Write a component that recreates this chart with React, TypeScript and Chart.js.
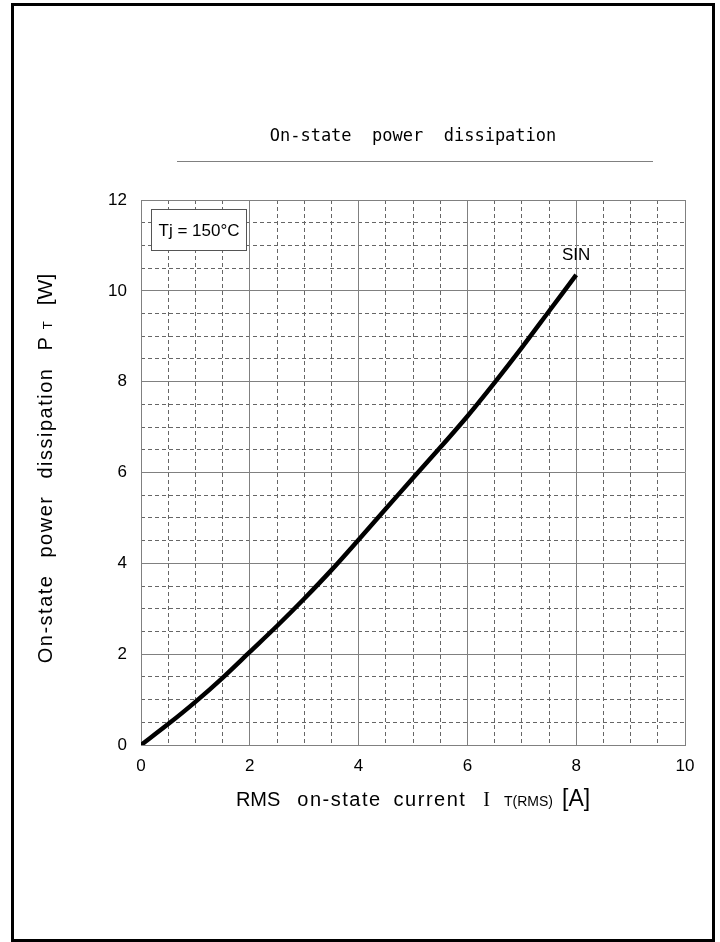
import { useEffect, useRef } from "react";
import { Chart, registerables } from "chart.js";

Chart.register(...registerables);

// ---- data ----
const currentA = [0, 0.5, 1, 1.5, 2, 2.5, 3, 3.5, 4, 4.5, 5, 5.5, 6, 6.5, 7, 7.5, 8];
const powerW = [0, 0.46, 0.95, 1.48, 2.05, 2.62, 3.22, 3.85, 4.52, 5.2, 5.88, 6.55, 7.24, 7.98, 8.75, 9.55, 10.35];
const xMajorStep = 2;
const yMajorStep = 2;
const minorStep = 0.5;
const xRange = [0, 10];
const yRange = [0, 12];
const chartTitle = "On-state  power  dissipation";
const seriesLabel = "SIN";
const conditionLabel = "Tj = 150°C";
const xTitleParts = ["RMS", "on-state", "current", "I", "T(RMS)", "[A]"];
const yTitleParts = ["On-state", "power", "dissipation", "P", "T", "[W]"];

const SANS = '"Liberation Sans", Arial, sans-serif';

type Seg = { text: string; font: string; ls: number; gapBefore: number; dy?: number };

function drawSegments(ctx: CanvasRenderingContext2D, segs: Seg[], cx: number, baseline: number) {
  // measure
  const widths = segs.map((s) => {
    ctx.font = s.font;
    (ctx as any).letterSpacing = s.ls + "px";
    return ctx.measureText(s.text).width;
  });
  let total = 0;
  segs.forEach((s, i) => (total += s.gapBefore + widths[i]));
  let x = cx - total / 2;
  ctx.textAlign = "left";
  ctx.textBaseline = "alphabetic";
  segs.forEach((s, i) => {
    x += s.gapBefore;
    ctx.font = s.font;
    (ctx as any).letterSpacing = s.ls + "px";
    ctx.fillText(s.text, x, baseline + (s.dy || 0));
    x += widths[i];
  });
  (ctx as any).letterSpacing = "0px";
}

const decorPlugin = {
  id: "decor",
  afterDraw(chart: any) {
    const ctx: CanvasRenderingContext2D = chart.ctx;
    const ca = chart.chartArea;
    const cx = (ca.left + ca.right) / 2;
    const cy = (ca.top + ca.bottom) / 2;
    ctx.save();
    ctx.fillStyle = "#000";

    // outer frame
    ctx.strokeStyle = "#000";
    ctx.lineWidth = 3;
    ctx.strokeRect(12.5, 4.5, 701, 936);

    // title
    ctx.font = '17px "DejaVu Sans Mono", monospace';
    ctx.textAlign = "center";
    ctx.textBaseline = "alphabetic";
    ctx.fillText(chartTitle, cx, 141);
    ctx.strokeStyle = "#808080";
    ctx.lineWidth = 1;
    ctx.beginPath();
    ctx.moveTo(177, 161.5);
    ctx.lineTo(653, 161.5);
    ctx.stroke();

    // x title
    const xs: Seg[] = [
      { text: xTitleParts[0], font: `20px ${SANS}`, ls: 0, gapBefore: 0 },
      { text: xTitleParts[1], font: `20px ${SANS}`, ls: 1.5, gapBefore: 17 },
      { text: xTitleParts[2], font: `20px ${SANS}`, ls: 1.5, gapBefore: 12 },
      { text: xTitleParts[3], font: '20px "Liberation Serif", serif', ls: 0, gapBefore: 17 },
      { text: xTitleParts[4], font: `14px ${SANS}`, ls: 0, gapBefore: 14 },
      { text: xTitleParts[5], font: `23px ${SANS}`, ls: 0, gapBefore: 9 },
    ];
    drawSegments(ctx, xs, cx, 806);

    // y title (rotated)
    ctx.save();
    ctx.translate(52, cy - 4);
    ctx.rotate(-Math.PI / 2);
    const ys: Seg[] = [
      { text: yTitleParts[0], font: `20px ${SANS}`, ls: 1.5, gapBefore: 0 },
      { text: yTitleParts[1], font: `20px ${SANS}`, ls: 1.5, gapBefore: 17 },
      { text: yTitleParts[2], font: `20px ${SANS}`, ls: 1.5, gapBefore: 17 },
      { text: yTitleParts[3], font: `20px ${SANS}`, ls: 0, gapBefore: 17 },
      { text: yTitleParts[4], font: `13px ${SANS}`, ls: 0, gapBefore: 8 },
      { text: yTitleParts[5], font: `21px ${SANS}`, ls: 0, gapBefore: 16 },
    ];
    drawSegments(ctx, ys, 0, 0);
    ctx.restore();

    // condition box
    const bx = ca.left + 10.5;
    const by = ca.top + 9.5;
    const bw = 95;
    const bh = 41;
    ctx.fillStyle = "#fff";
    ctx.fillRect(bx, by, bw, bh);
    ctx.strokeStyle = "#555";
    ctx.lineWidth = 1;
    ctx.strokeRect(bx, by, bw, bh);
    ctx.fillStyle = "#000";
    ctx.font = `17px ${SANS}`;
    ctx.textAlign = "center";
    ctx.textBaseline = "middle";
    ctx.fillText(conditionLabel, bx + bw / 2, by + bh / 2 + 1);

    // series label at curve end
    const xs0 = chart.scales.x;
    const ys0 = chart.scales.y;
    const lastI = currentA.length - 1;
    const px = xs0.getPixelForValue(currentA[lastI]);
    const py = ys0.getPixelForValue(powerW[lastI]);
    ctx.font = `17px ${SANS}`;
    ctx.textAlign = "center";
    ctx.textBaseline = "middle";
    ctx.fillText(seriesLabel, px, py - 20);

    ctx.restore();
  },
};

export default function App() {
  const ref = useRef<HTMLCanvasElement | null>(null);

  useEffect(() => {
    document.body.style.margin = "0";
    const canvas = ref.current!;
    const chart = new Chart(canvas, {
      type: "line",
      data: {
        datasets: [
          {
            label: seriesLabel,
            data: currentA.map((x, i) => ({ x, y: powerW[i] })),
            borderColor: "#000",
            borderWidth: 4.5,
            pointRadius: 0,
            tension: 0.3,
            fill: false,
            xAxisID: "x",
            yAxisID: "y",
          },
        ],
      },
      options: {
        responsive: false,
        animation: false,
        devicePixelRatio: 1,
        layout: { padding: { left: 81, right: 35, top: 200, bottom: 147 } },
        plugins: { legend: { display: false }, tooltip: { enabled: false }, title: { display: false } },
        scales: {
          x2: {
            type: "linear",
            position: "bottom",
            min: xRange[0],
            max: xRange[1],
            ticks: { display: false, stepSize: minorStep },
            grid: { color: "#666", lineWidth: 1, drawTicks: false },
            border: { display: false, dash: [4, 3] },
            afterFit: (s: any) => {
              s.height = 0;
            },
          },
          y2: {
            type: "linear",
            position: "left",
            min: yRange[0],
            max: yRange[1],
            ticks: { display: false, stepSize: minorStep },
            grid: { color: "#666", lineWidth: 1, drawTicks: false },
            border: { display: false, dash: [4, 3] },
            afterFit: (s: any) => {
              s.width = 0;
            },
          },
          x: {
            type: "linear",
            position: "bottom",
            min: xRange[0],
            max: xRange[1],
            ticks: { stepSize: xMajorStep, color: "#000", font: { family: SANS, size: 17 }, padding: 11, maxRotation: 0 },
            grid: { color: "#808080", lineWidth: 1, drawTicks: false },
            border: { color: "#808080", width: 1 },
            afterFit: (s: any) => {
              s.height = 50;
            },
          },
          y: {
            type: "linear",
            position: "left",
            min: yRange[0],
            max: yRange[1],
            ticks: { stepSize: yMajorStep, color: "#000", font: { family: SANS, size: 17 }, padding: 14 },
            grid: { color: "#808080", lineWidth: 1, drawTicks: false },
            border: { color: "#808080", width: 1 },
            afterFit: (s: any) => {
              s.width = 60;
            },
          },
        },
      },
      plugins: [decorPlugin],
    });
    return () => chart.destroy();
  }, []);

  return (
    <div style={{ width: 720, height: 942, background: "#fff" }}>
      <canvas ref={ref} width={720} height={942} style={{ display: "block", width: 720, height: 942 }} />
    </div>
  );
}
